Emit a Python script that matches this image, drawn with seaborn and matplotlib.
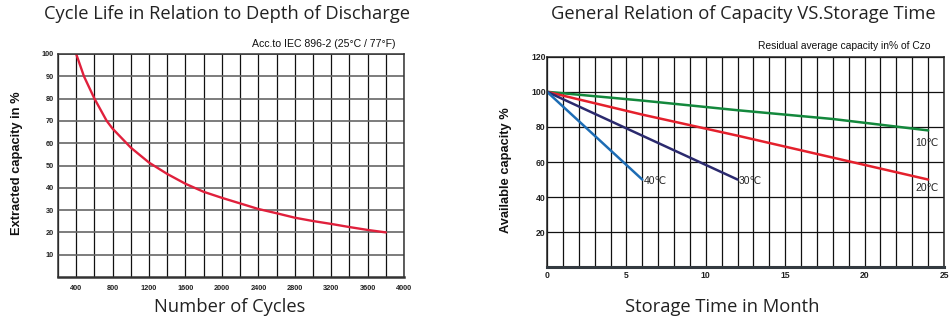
import matplotlib
matplotlib.use("Agg")
import matplotlib.pyplot as plt
from matplotlib.ticker import MultipleLocator, FixedLocator
import seaborn as sns
import pandas as pd

# Cycle life vs depth of discharge
cycles = [400, 485, 600, 735, 800, 1000, 1200, 1400, 1600, 1800, 2000, 2200, 2400,
          2600, 2800, 3000, 3200, 3400, 3600, 3800]
extracted = [100, 90, 80, 70, 66.5, 58, 51.3, 46.2, 41.8, 38.2, 35.5, 33, 30.5,
             28.6, 26.6, 25.1, 23.8, 22.4, 21.1, 20]
cycle_ticks = [400, 800, 1200, 1600, 2000, 2400, 2800, 3200, 3600, 4000]
depth_ticks = [10, 20, 30, 40, 50, 60, 70, 80, 90, 100]

# Capacity retention during storage at different temperatures
months_10c = [0, 6, 12, 18, 24]
cap_10c = [100, 95, 89.5, 84.5, 78]
months_20c = [0, 6, 12, 18, 24]
cap_20c = [100, 87, 75, 62.5, 50]
months_30c = [0, 6, 12]
cap_30c = [100, 75, 50]
months_40c = [0, 3, 6]
cap_40c = [100, 75, 50]
month_ticks = [0, 5, 10, 15, 20, 25]
capacity_ticks = [20, 40, 60, 80, 100, 120]

sns.set_theme(style="white")
plt.rcParams["font.family"] = ["Liberation Sans", "DejaVu Sans"]

fig = plt.figure(figsize=(9.52, 3.24), dpi=100)
W, H = 952, 324


def px_axes(left, top, right, bottom):
    return fig.add_axes([left / W, (H - bottom) / H, (right - left) / W, (bottom - top) / H])


title_kw = dict(family=["Open Sans", "DejaVu Sans"], fontsize=13.2, color="#222222")

# ---- left panel ----
ax1 = px_axes(58, 54, 404, 277)
df1 = pd.DataFrame({"cycles": cycles, "extracted": extracted})
sns.lineplot(data=df1, x="cycles", y="extracted", ax=ax1, color="#e0203c", linewidth=1.7)
ax1.set_xlim(200, 4000)
ax1.set_ylim(0, 100)
ax1.xaxis.set_major_locator(FixedLocator(cycle_ticks))
ax1.xaxis.set_minor_locator(MultipleLocator(200))
ax1.yaxis.set_major_locator(FixedLocator(depth_ticks))
ax1.grid(True, which="major", axis="y", color="#666666", linewidth=1.2)
ax1.grid(True, which="both", axis="x", color="#111111", linewidth=0.9)
ax1.set_axisbelow(True)
ax1.set_xlabel("")
ax1.set_ylabel("")
ax1.tick_params(axis="both", which="both", length=0, labelsize=5.3, pad=6, colors="#222222")
for lab in ax1.get_xticklabels() + ax1.get_yticklabels():
    lab.set_fontweight("bold")
ax1.tick_params(axis="y", pad=3)
for s in ax1.spines.values():
    s.set_color("#333333")
    s.set_linewidth(1.1)
ax1.spines["bottom"].set_linewidth(1.8)

fig.text(227 / W, 1 - 14 / H, "Cycle Life in Relation to Depth of Discharge", ha="center", va="center", **title_kw)
fig.text(395 / W, 1 - 44 / H, "Acc.to IEC 896-2 (25°C / 77°F)", ha="right", va="center",
         fontsize=7.6, color="#111111")
fig.text(17 / W, 1 - 163 / H, "Extracted capacity in %", rotation=90, ha="center", va="center",
         fontsize=9.3, fontweight="bold", color="#111111")
fig.text(230 / W, 1 - 307 / H, "Number of Cycles", ha="center", va="center", **title_kw)

# ---- right panel ----
ax2 = px_axes(547, 56.7, 944, 267.3)
series = [
    (months_10c, cap_10c, "#13883c"),
    (months_20c, cap_20c, "#e4202c"),
    (months_30c, cap_30c, "#2b2a6e"),
    (months_40c, cap_40c, "#1d6cb4"),
]
for mx, cy, col in series:
    sns.lineplot(x=mx, y=cy, ax=ax2, color=col, linewidth=1.8)
ax2.set_xlim(0, 25)
ax2.set_ylim(0, 120)
ax2.xaxis.set_major_locator(FixedLocator(month_ticks))
ax2.xaxis.set_minor_locator(MultipleLocator(1))
ax2.yaxis.set_major_locator(FixedLocator(capacity_ticks))
ax2.grid(True, which="both", axis="both", color="#111111", linewidth=0.9)
ax2.set_axisbelow(True)
ax2.set_xlabel("")
ax2.set_ylabel("")
ax2.tick_params(axis="both", which="both", length=0, labelsize=6.2, colors="#222222")
ax2.tick_params(axis="x", pad=3)
ax2.tick_params(axis="y", pad=1)
for lab in ax2.get_xticklabels() + ax2.get_yticklabels():
    lab.set_fontweight("bold")
for s in ax2.spines.values():
    s.set_color("#222222")
    s.set_linewidth(1.1)
ax2.spines["bottom"].set_linewidth(2.2)
ax2.spines["bottom"].set_color("#333a40")

lab_kw = dict(fontsize=7.5, color="#222222", va="center")
ax2.text(months_40c[-1] + 0.1, cap_40c[-1] - 1, "40℃", ha="left", **lab_kw)
ax2.text(months_30c[-1] + 0.1, cap_30c[-1] - 1, "30℃", ha="left", **lab_kw)
ax2.text(months_10c[-1] - 0.8, cap_10c[-1] - 7, "10℃", ha="left", **lab_kw)
ax2.text(months_20c[-1] - 0.8, cap_20c[-1] - 5, "20℃", ha="left", **lab_kw)

fig.text(743 / W, 1 - 14 / H, "General Relation of Capacity VS.Storage Time", ha="center", va="center", **title_kw)
fig.text(930 / W, 1 - 46 / H, "Residual average capacity in% of Czo", ha="right", va="center",
         fontsize=7.4, color="#111111")
fig.text(506 / W, 1 - 170 / H, "Available capacity %", rotation=90, ha="center", va="center",
         fontsize=9.3, fontweight="bold", color="#111111")
fig.text(722 / W, 1 - 307 / H, "Storage Time in Month", ha="center", va="center", **title_kw)

fig.savefig("out.png", dpi=100)
